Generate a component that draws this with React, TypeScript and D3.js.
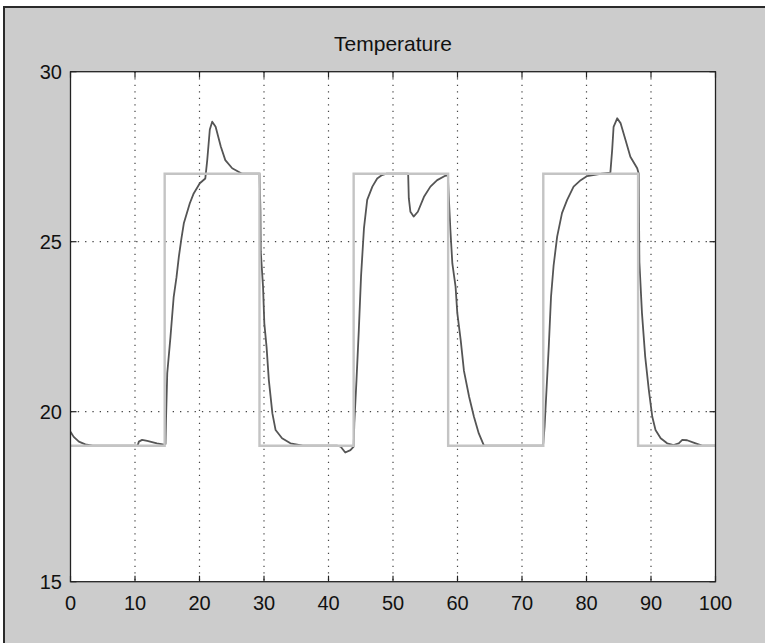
import React from "react";
import * as d3 from "d3";

const title = "Temperature";
const xTicks = [0, 10, 20, 30, 40, 50, 60, 70, 80, 90, 100];
const yTicks = [15, 20, 25, 30];

// Reference (set-point) square wave
const refTime = [0, 14.6, 14.6, 29.3, 29.3, 43.9, 43.9, 58.55, 58.55, 73.3, 73.3, 88.0, 88.0, 100];
const refTemp = [19, 19, 27, 27, 19, 19, 27, 27, 19, 19, 27, 27, 19, 19];

// Measured temperature
const measTime = [
  0, 0.5, 1.3, 2.3, 3.4, 10.4, 10.6, 11.1, 11.9, 13.4, 14.5, 14.73, 14.8, 15.0, 15.5, 16.0, 16.43, 16.8,
  17.2, 17.57, 18.5, 19.1, 20.05, 20.9, 21.2, 21.6, 21.97, 22.5, 23.3, 24.0, 25.07, 26.6, 29.3, 29.45,
  29.5, 29.85, 30.05, 30.4, 30.75, 31.3, 31.8, 32.8, 34.1, 36, 41.3, 41.9, 42.6, 43.4, 43.9, 44.0, 44.34,
  44.7, 45.05, 45.5, 46.0, 46.8, 47.55, 48.3, 49.0, 52.35, 52.45, 52.7, 53.2, 53.85, 54.8, 55.8, 56.85,
  58.1, 58.5, 58.6, 58.9, 59.2, 59.7, 59.97, 60.5, 61.0, 61.8, 62.55, 63.3, 64.1, 73.2, 73.3, 73.5, 73.8,
  74.15, 74.5, 74.9, 75.45, 76.2, 77.0, 78.0, 79.1, 80.1, 82.4, 83.7, 83.98, 84.2, 84.76, 85.3, 86.05,
  86.8, 87.86, 88.1, 88.12, 88.2, 88.6, 89.1, 89.66, 90.2, 90.7, 91.5, 92.5, 93.5, 94.3, 94.85, 95.6,
  96.6, 97.9, 100,
];
const measTemp = [
  19.41, 19.26, 19.12, 19.04, 19.0, 19.0, 19.12, 19.17, 19.14, 19.07, 19.03, 19.05, 19.71, 21.13, 22.2,
  23.38, 23.95, 24.56, 25.1, 25.54, 26.13, 26.42, 26.72, 26.86, 27.4, 28.3, 28.53, 28.38, 27.8, 27.4,
  27.16, 27.0, 27.0, 25.9, 24.7, 23.68, 22.6, 21.9, 20.93, 19.95, 19.46, 19.22, 19.07, 19.0, 19.0,
  18.97, 18.8, 18.87, 18.97, 19.66, 20.93, 22.4, 24.0, 25.4, 26.23, 26.62, 26.86, 26.96, 27.0, 27.0,
  26.28, 25.88, 25.74, 25.88, 26.32, 26.62, 26.81, 26.94, 26.95, 26.52, 25.34, 24.36, 23.68, 22.9, 22.1,
  21.2, 20.44, 19.85, 19.36, 19.0, 19.0, 19.07, 19.56, 20.64, 21.91, 23.38, 24.3, 25.15, 25.84, 26.23,
  26.62, 26.81, 26.93, 27.0, 27.03, 27.7, 28.38, 28.63, 28.48, 27.99, 27.5, 27.16, 27.0, 26.3, 24.4,
  22.9, 21.62, 20.64, 19.85, 19.46, 19.22, 19.07, 19.02, 19.07, 19.17, 19.16, 19.09, 19.0, 19.0,
];

const W = 765;
const H = 643;
const L = 70.5, R = 715.5, T = 71.7, B = 581.7;

export default function App() {
  const x = d3.scaleLinear().domain([0, 100]).range([L, R]);
  const y = d3.scaleLinear().domain([15, 30]).range([B, T]);
  const refPath = d3
    .line<number>()
    .x((d, i) => x(refTime[i]))
    .y((d) => y(d))(refTemp) as string;
  const measPath = d3
    .line<number>()
    .x((d, i) => x(measTime[i]))
    .y((d) => y(d))(measTemp) as string;
  const font = "'Liberation Sans', Arial, Helvetica, sans-serif";
  const tickLen = 6;
  return (
    <svg
      width={W}
      height={H}
      style={{ position: "absolute", left: 0, top: 0, background: "#fff" }}
    >
      <rect x={4} y={7} width={W + 10} height={H + 10} fill="#cccccc" stroke="#2a2a2a" strokeWidth={2} />
      <rect x={L} y={T} width={R - L} height={B - T} fill="#fff" />
      {/* grid */}
      {xTicks.slice(1, -1).map((t) => (
        <line
          key={"gx" + t}
          x1={x(t)}
          x2={x(t)}
          y1={T}
          y2={B}
          stroke="#444"
          strokeWidth={1.2}
          strokeDasharray="1.3,5.2"
        />
      ))}
      {yTicks.slice(1, -1).map((t) => (
        <line
          key={"gy" + t}
          x1={L}
          x2={R}
          y1={y(t)}
          y2={y(t)}
          stroke="#444"
          strokeWidth={1.2}
          strokeDasharray="1.3,6"
        />
      ))}
      <clipPath id="plotclip">
        <rect x={L} y={T} width={R - L} height={B - T} />
      </clipPath>
      <g clipPath="url(#plotclip)">
        <path d={measPath} fill="none" stroke="#555" strokeWidth={1.8} strokeLinejoin="round" />
        <path d={refPath} fill="none" stroke="#c4c4c4" strokeWidth={2.4} />
      </g>
      {/* ticks */}
      {xTicks.map((t) => (
        <g key={"tx" + t}>
          <line x1={x(t)} x2={x(t)} y1={B} y2={B - tickLen} stroke="#222" strokeWidth={1.2} />
          <line x1={x(t)} x2={x(t)} y1={T} y2={T + tickLen} stroke="#222" strokeWidth={1.2} />
          <text
            x={x(t)}
            y={610}
            textAnchor="middle"
            fontFamily={font}
            fontSize={20}
            fill="#111"
          >
            {t}
          </text>
        </g>
      ))}
      {yTicks.map((t) => (
        <g key={"ty" + t}>
          <line x1={L} x2={L + tickLen} y1={y(t)} y2={y(t)} stroke="#222" strokeWidth={1.2} />
          <line x1={R} x2={R - tickLen} y1={y(t)} y2={y(t)} stroke="#222" strokeWidth={1.2} />
          <text
            x={62}
            y={y(t) + 7.5}
            textAnchor="end"
            fontFamily={font}
            fontSize={20}
            fill="#111"
          >
            {t}
          </text>
        </g>
      ))}
      <rect x={L} y={T} width={R - L} height={B - T} fill="none" stroke="#222" strokeWidth={1.3} />
      <text x={(L + R) / 2} y={51} textAnchor="middle" fontFamily={font} fontSize={21} fill="#111">
        {title}
      </text>
    </svg>
  );
}
